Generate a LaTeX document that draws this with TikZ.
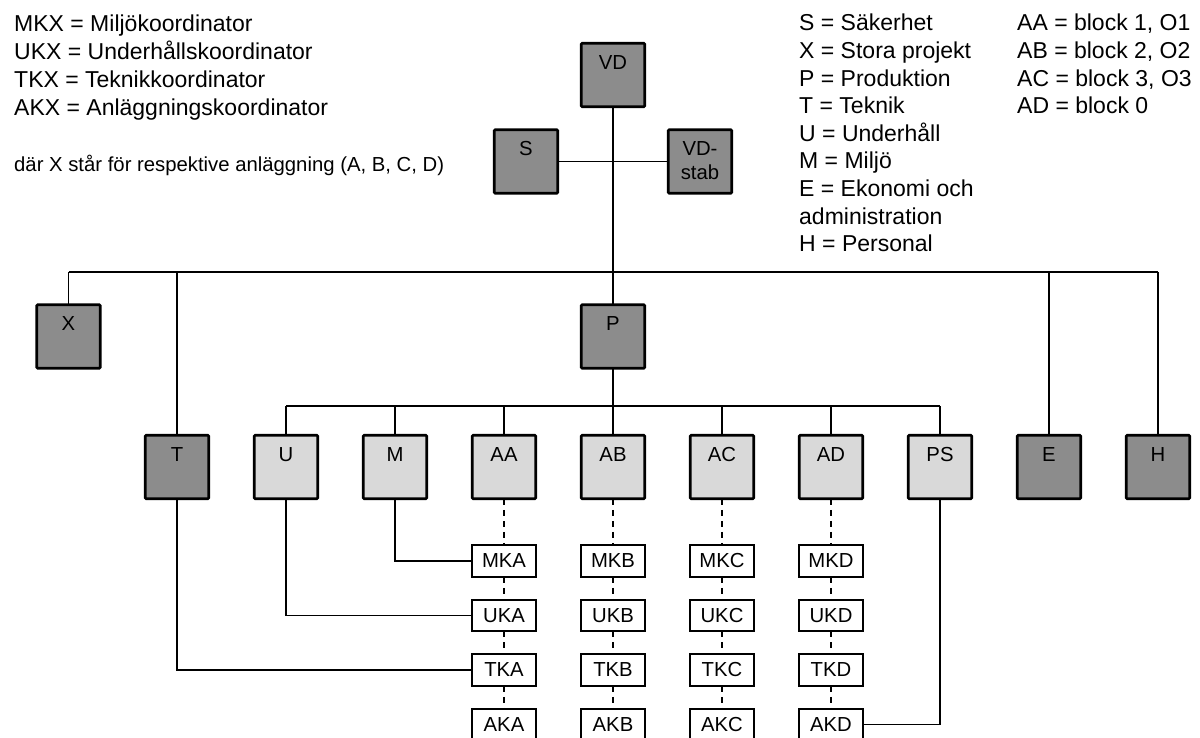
\documentclass[tikz,border=0pt]{standalone}
\usepackage{fontspec}
\setmainfont{Liberation Sans}
\definecolor{darkfill}{RGB}{140,140,140}
\definecolor{lightfill}{RGB}{217,217,217}
\newcommand{\legfont}{\fontsize{23}{27.6}\selectfont}
\newcommand{\boxfont}{\fontsize{20.3}{24}\selectfont}
\begin{document}
\begin{tikzpicture}[x=1pt,y=-1pt,
  bigbox/.style={draw=black, line width=2.6pt, rounded corners=1pt,
    minimum width=63.5pt, minimum height=63.5pt, inner sep=0pt, outer sep=0pt},
  dark/.style={bigbox, fill=darkfill},
  light/.style={bigbox, fill=lightfill},
  boxlabel/.style={label={[anchor=base, yshift=-26pt, inner sep=0pt, font=\boxfont]north:#1}},
  smallbox/.style={draw=black, line width=1.6pt, fill=white, minimum width=64pt,
    minimum height=31.5pt, inner sep=0pt, outer sep=0pt, font=\boxfont},
  trunk/.style={draw=black, line width=2pt},
  branch/.style={draw=black, line width=1.3pt},
  dashline/.style={draw=black, line width=1.5pt, dash pattern=on 6pt off 5pt},
  legend/.style={anchor=base west, inner sep=0pt, font=\legfont},
  note/.style={anchor=base west, inner sep=0pt, font=\boxfont},
]
\useasboundingbox (0,0) rectangle (1200,738);
\clip (0,0) rectangle (1200,738);

% legends
\foreach \t [count=\i] in {MKX = Miljökoordinator, UKX = Underhållskoordinator,
    TKX = Teknikkoordinator, AKX = Anläggningskoordinator}
  \node[legend] (kx\i) at (14, 4+28*\i) {\t};
\node[note] (kxnote) at (14,172) {där X står för respektive anläggning (A, B, C, D)};

\foreach \t [count=\i] in {S = Säkerhet, X = Stora projekt, P = Produktion,
    T = Teknik, U = Underhåll, M = Miljö, E = Ekonomi och, administration, H = Personal}
  \node[legend] (abbr\i) at (799, 3.4+27.6*\i) {\t};

\foreach \t [count=\i] in {{AA = block 1, O1}, {AB = block 2, O2},
    {AC = block 3, O3}, {AD = block 0}}
  \node[legend] (blk\i) at (1017, 3.4+27.6*\i) {\t};

% management
\node[dark, boxlabel=VD] (VD) at (613,75) {};
\node[dark, boxlabel=S] (S) at (526,161.5) {};
% two-line label: the base anchor sits on the last line
\node[dark, label={[anchor=base, yshift=-50pt, inner sep=0pt, align=center,
    font=\boxfont]north:{VD-\\stab}}] (VDstab) at (700,161.5) {};

% departments
\node[dark, boxlabel=X] (X) at (68.5,336.5) {};
\node[dark, boxlabel=P] (P) at (613,336.5) {};
\node[dark, boxlabel=T] (T) at (177,467) {};
\node[light, boxlabel=U] (U) at (286,467) {};
\node[light, boxlabel=M] (M) at (395,467) {};
\node[light, boxlabel=AA] (AA) at (504,467) {};
\node[light, boxlabel=AB] (AB) at (613,467) {};
\node[light, boxlabel=AC] (AC) at (722,467) {};
\node[light, boxlabel=AD] (AD) at (831,467) {};
\node[light, boxlabel=PS] (PS) at (940,467) {};
\node[dark, boxlabel=E] (E) at (1049,467) {};
\node[dark, boxlabel=H] (H) at (1158,467) {};

% coordinators per plant
\foreach \c/\x in {A/504, B/613, C/722, D/831} {
  \node[smallbox] (MK\c) at (\x,561) {MK\c};
  \node[smallbox] (UK\c) at (\x,615.5) {UK\c};
  \node[smallbox] (TK\c) at (\x,670) {TK\c};
  \node[smallbox] (AK\c) at (\x,724.5) {AK\c};
  \draw[dashline] (A\c.south) -- (MK\c.north);
  \draw[dashline] (MK\c.south) -- (UK\c.north);
  \draw[dashline] (UK\c.south) -- (TK\c.north);
  \draw[dashline] (TK\c.south) -- (AK\c.north);
}

% connectors
\coordinate (bus1) at (613,272);
\coordinate (bus2) at (613,406);
\draw[branch] (S.east) -- (VDstab.west);
\foreach \n in {X, T, E, H}
  \draw[branch] (\n.north) -- (\n.north |- bus1);
\draw[trunk] (X.north |- bus1) -- (H.north |- bus1);
\draw[trunk] (VD.south) -- (P.north);
\foreach \n in {U, M, AA, AC, AD, PS}
  \draw[branch] (\n.north) -- (\n.north |- bus2);
\draw[trunk] (U.north |- bus2) -- (PS.north |- bus2);
\draw[trunk] (P.south) -- (AB.north);
\draw[branch] (M.south) |- (MKA.west);
\draw[branch] (U.south) |- (UKA.west);
\draw[branch] (T.south) |- (TKA.west);
\draw[branch] (PS.south) |- (AKD.east);
\end{tikzpicture}
\end{document}
